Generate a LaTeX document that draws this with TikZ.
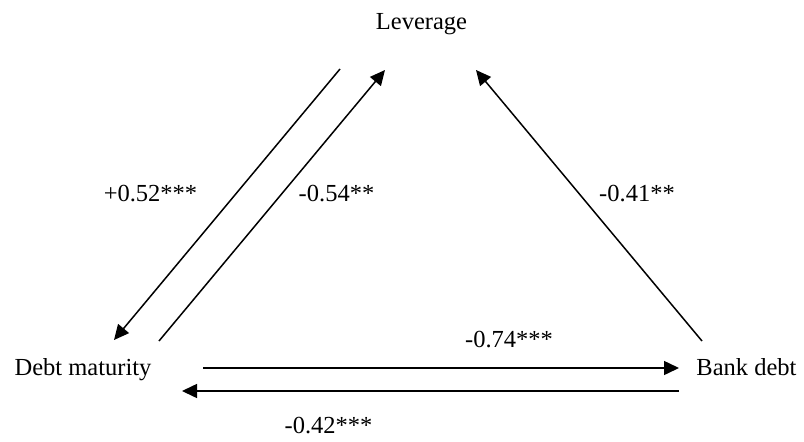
\documentclass[tikz,border=0pt]{standalone}
\usepackage{fontspec}
\setmainfont{Liberation Serif}
\usetikzlibrary{arrows.meta}
\begin{document}
\begin{tikzpicture}[x=1pt,y=-1pt,
  lbl/.style={anchor=base,inner sep=0pt,font=\fontsize{24.5}{29}\selectfont},
  conn/.style={line width=1.5pt,-{Triangle[length=15pt,width=14pt]}}]
\useasboundingbox[fill=white] (0,0) rectangle (804,442);
% main nodes
\node[lbl] (lev) at (421.5,29) {Leverage};
\node[lbl] (dm) at (83,375) {Debt maturity};
\node[lbl] (bd) at (746.5,375) {Bank debt};
% connector end points
\coordinate (a1s) at (340,69);  \coordinate (a1e) at (114,340);
\coordinate (a2s) at (159,341); \coordinate (a2e) at (385,70);
\coordinate (a3s) at (702,341); \coordinate (a3e) at (476,70);
\coordinate (a4s) at (203,368); \coordinate (a4e) at (679,368);
\coordinate (a5s) at (679,391); \coordinate (a5e) at (182,391);
\draw[conn] (a1s) -- (a1e);
\draw[conn] (a2s) -- (a2e);
\draw[conn] (a3s) -- (a3e);
\draw[conn] (a4s) -- (a4e);
\draw[conn] (a5s) -- (a5e);
% coefficient labels
\node[lbl] (l1) at (150.5,201) {+0.52***};
\node[lbl] (l2) at (336.5,201) {-0.54**};
\node[lbl] (l3) at (637,201) {-0.41**};
\node[lbl] (l4) at (509,347) {-0.74***};
\node[lbl] (l5) at (328.5,433) {-0.42***};
\end{tikzpicture}
\end{document}
